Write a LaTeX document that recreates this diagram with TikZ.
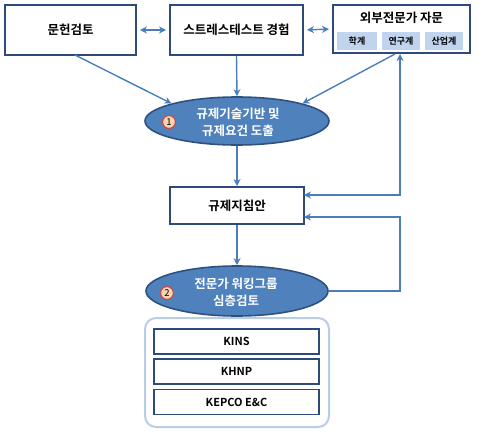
\documentclass[tikz,border=0pt]{standalone}
\usepackage{fontspec}
\setmainfont{Noto Sans CJK KR}[BoldFont={Noto Sans CJK KR Bold}]
\usetikzlibrary{shapes.geometric,arrows.meta,calc}
\definecolor{boxline}{HTML}{2E4A7A}
\definecolor{conn}{HTML}{4A7EBB}
\definecolor{ellfill}{HTML}{4F81BD}
\definecolor{ellline}{HTML}{2F5180}
\definecolor{subfill}{HTML}{C0D4EE}
\definecolor{contline}{HTML}{B9CDE5}
\definecolor{badgefill}{HTML}{FBD4B4}
\definecolor{badgeline}{HTML}{C0504D}
\tikzset{
  mainbox/.style={draw=boxline,line width=2pt,fill=white,font=\bfseries\fontsize{12.5}{14}\selectfont,inner sep=0pt},
  subbox/.style={fill=subfill,minimum height=18pt,inner sep=0pt,font=\bfseries\fontsize{9}{10}\selectfont},
  ell/.style={ellipse,draw=ellline,line width=1.6pt,fill=ellfill,inner sep=0pt},
  elltext/.style={text=white,align=center,font=\bfseries\fontsize{12.5}{17}\selectfont},
  badge/.style={circle,draw=badgeline,line width=1.3pt,fill=badgefill,minimum size=13pt,inner sep=0pt,font=\fontsize{9.5}{9.5}\selectfont},
  orgbox/.style={draw=boxline,line width=1.6pt,fill=white,minimum width=165pt,minimum height=25pt,inner sep=0pt,font=\bfseries\fontsize{11}{13}\selectfont},
  link/.style={draw=conn,line width=1.4pt,-{Stealth[length=7pt,width=7pt]}},
  dlink/.style={draw=conn,line width=1.4pt,{Stealth[length=7pt,width=7pt]}-{Stealth[length=7pt,width=7pt]}}
}
\begin{document}
\begin{tikzpicture}[x=1pt,y=-1pt]
\useasboundingbox (0,0) rectangle (479,434);
% top boxes
\node[mainbox,minimum width=131pt,minimum height=50pt] (b1) at (70.5,30) {문헌검토};
\node[mainbox,minimum width=133pt,minimum height=50pt] (b2) at (236.5,30) {스트레스테스트 경험};
\node[mainbox,minimum width=137pt,minimum height=48pt] (b3) at (401.5,29) {};
\node[font=\bfseries\fontsize{12.5}{14}\selectfont] (b3t) at (401.5,18) {외부전문가 자문};
\node[subbox,minimum width=40pt] (s1) at (357,41) {학계};
\node[subbox,minimum width=38pt] (s2) at (401,41) {연구계};
\node[subbox,minimum width=38pt] (s3) at (444,41) {산업계};
% ellipse 1
\node[ell,minimum width=184pt,minimum height=48pt] (e1) at (237,121) {};
\node[elltext] (e1t) at (238,122) {규제기술기반 및\\규제요건 도출};
\node[badge] (n1) at (169,122) {1};
% guideline box
\node[mainbox,minimum width=134pt,minimum height=37pt] (b4) at (237,205.5) {규제지침안};
% ellipse 2
\node[ell,minimum width=182pt,minimum height=50pt] (e2) at (237,291) {};
\node[elltext] (e2t) at (236,292) {전문가 워킹그룹\\심층검토};
\node[badge] (n2) at (167,293) {2};
% container
\draw[contline,line width=2pt,rounded corners=11pt,fill=white] (145,318) rectangle (329,427);
\node[orgbox] (k1) at (236.5,341.5) {KINS};
\node[orgbox] (k2) at (236.5,371.5) {KHNP};
\node[orgbox] (k3) at (236.5,402) {KEPCO E\&C};
% connectors
\draw[dlink,shorten <=3pt,shorten >=3pt] (b1.east) -- (b2.west);
\draw[dlink,shorten <=3pt,shorten >=3pt] (b2.east) -- (b3.west);
\coordinate (c1) at (75,55);
\coordinate (c3) at (395,54);
\draw[link] (c1) -- (e1.165);
\draw[link] (b2.south) -- (e1.north);
\draw[link] (c3) -- (e1.15);
\draw[link] (e1.south) -- (b4.north);
\draw[link] (b4.south) -- (e2.north);
\coordinate (fx) at (400,0);
\coordinate (f1) at (304,195);
\coordinate (f2) at (304,217);
\draw[dlink] (f1) -- (fx |- f1) -- (fx |- b3.south);
\draw[link] (e2.east) -- (fx |- e2.east) -- (fx |- f2) -- (f2);
\end{tikzpicture}
\end{document}
